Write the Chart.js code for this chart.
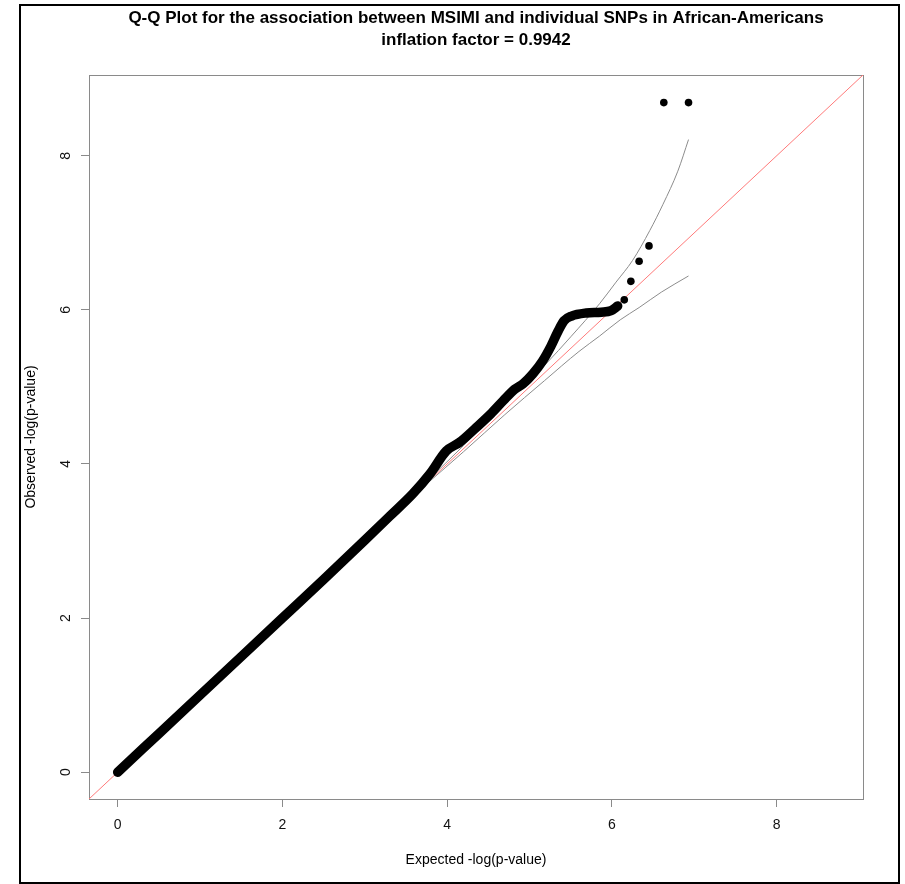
<!DOCTYPE html>
<html>
<head>
<meta charset="utf-8">
<title>Q-Q Plot</title>
<script src="https://cdn.jsdelivr.net/npm/chart.js@4.4.1/dist/chart.umd.min.js"></script>
<style>
  html, body { margin: 0; padding: 0; background: #fff; }
  #wrap { position: relative; width: 905px; height: 884px; }
  #frame {
    position: absolute; left: 19px; top: 4px; width: 881px; height: 880px;
    border: 2px solid #000; box-sizing: border-box; pointer-events: none;
  }
</style>
</head>
<body>
<div id="wrap">
  <canvas id="qqChart" width="905" height="884"></canvas>
  <div id="frame"></div>
</div>
<script>
// axis limits (R style: 0..8.7 plus 4% each side)
const axisMin = -0.348;
const axisMax = 9.048;
const tickValues = [0, 2, 4, 6, 8];

// dense part of the observed curve
const obsExpected = [0, 0.5, 1.0, 1.5, 2.0, 2.5, 3.0, 3.3, 3.58, 3.79, 3.99, 4.15, 4.35, 4.53, 4.68, 4.82, 4.92, 5.04, 5.16, 5.26, 5.34, 5.42, 5.51, 5.69, 5.87, 5.99, 6.07];
const obsObserved = [0, 0.5, 1.0, 1.5, 2.0, 2.5, 3.01, 3.32, 3.61, 3.87, 4.17, 4.28, 4.47, 4.65, 4.82, 4.97, 5.04, 5.17, 5.34, 5.53, 5.71, 5.86, 5.92, 5.96, 5.97, 5.99, 6.05];

// top SNPs drawn as single dots
const tailExpected = [6.15, 6.23, 6.33, 6.45, 6.63, 6.93];
const tailObserved = [6.13, 6.37, 6.63, 6.83, 8.69, 8.69];

// 95% band
const upperExpected = [3.75, 4.2, 4.7, 5.2, 5.5, 5.85, 6.05, 6.25, 6.46, 6.62, 6.8, 6.93];
const upperBound = [3.77, 4.24, 4.78, 5.30, 5.65, 6.08, 6.36, 6.64, 7.03, 7.37, 7.8, 8.21];
const lowerExpected = [3.75, 4.2, 4.7, 5.18, 5.6, 5.85, 6.1, 6.33, 6.6, 6.93];
const lowerBound = [3.74, 4.16, 4.64, 5.08, 5.46, 5.66, 5.87, 6.03, 6.23, 6.44];

function pairs(xs, ys) {
  return xs.map((x, i) => ({ x: x, y: ys[i] }));
}

const boxPlugin = {
  id: 'plotBox',
  beforeDatasetsDraw(chart) {
    const a = chart.chartArea;
    const ctx = chart.ctx;
    ctx.save();
    ctx.strokeStyle = '#8a8a8a';
    ctx.lineWidth = 1;
    ctx.strokeRect(Math.round(a.left) + 0.5, Math.round(a.top) + 0.5,
      Math.round(a.right - a.left), Math.round(a.bottom - a.top));
    ctx.restore();
  }
};

const axisFont = { family: 'Liberation Sans, Arial, sans-serif', size: 14 };

const chart = new Chart(document.getElementById('qqChart').getContext('2d'), {
  type: 'scatter',
  data: {
    datasets: [
      {
        label: 'observed',
        data: pairs(obsExpected, obsObserved),
        showLine: true,
        borderColor: '#000',
        borderWidth: 9.5,
        borderCapStyle: 'round',
        borderJoinStyle: 'round',
        pointRadius: 0,
        cubicInterpolationMode: 'monotone'
      },
      {
        label: 'top',
        data: pairs(tailExpected, tailObserved),
        showLine: false,
        pointRadius: 3.8,
        pointBackgroundColor: '#000',
        pointBorderColor: '#000',
        pointBorderWidth: 0
      },
      {
        label: 'upper',
        data: pairs(upperExpected, upperBound),
        showLine: true,
        borderColor: '#8c8c8c',
        borderWidth: 1,
        pointRadius: 0,
        cubicInterpolationMode: 'monotone'
      },
      {
        label: 'lower',
        data: pairs(lowerExpected, lowerBound),
        showLine: true,
        borderColor: '#8c8c8c',
        borderWidth: 1,
        pointRadius: 0,
        cubicInterpolationMode: 'monotone'
      },
      {
        label: 'y = x',
        data: [{ x: axisMin, y: axisMin }, { x: axisMax, y: axisMax }],
        showLine: true,
        borderColor: '#ff7a7a',
        borderWidth: 1,
        pointRadius: 0
      }
    ]
  },
  options: {
    responsive: false,
    animation: false,
    layout: { padding: { left: 20, right: 42, top: 0, bottom: 0 } },
    plugins: {
      legend: { display: false },
      tooltip: { enabled: false },
      title: {
        display: true,
        fullSize: false,
        text: ['Q-Q Plot for the association between MSIMI and individual SNPs in African-Americans',
               'inflation factor = 0.9942'],
        color: '#000',
        font: { family: 'Liberation Sans, Arial, sans-serif', size: 17, weight: 'bold', lineHeight: 1.3 },
        padding: { top: 7, bottom: 23.8 }
      }
    },
    scales: {
      x: {
        type: 'linear',
        min: axisMin,
        max: axisMax,
        afterBuildTicks: (s) => { s.ticks = tickValues.map(v => ({ value: v })); },
        afterFit: (s) => { s.height = 85; },
        grid: { drawOnChartArea: false, drawTicks: true, tickLength: 8, color: '#8a8a8a' },
        border: { display: true, color: '#8a8a8a' },
        ticks: { color: '#111', font: axisFont, padding: 9.6, maxRotation: 0 },
        title: {
          display: true,
          text: 'Expected -log(p-value)',
          color: '#000',
          font: axisFont,
          padding: { top: 0, bottom: 15.6 }
        }
      },
      y: {
        type: 'linear',
        min: axisMin,
        max: axisMax,
        afterBuildTicks: (s) => { s.ticks = tickValues.map(v => ({ value: v })); },
        afterFit: (s) => { s.width = 69; },
        grid: { drawOnChartArea: false, drawTicks: true, tickLength: 8, color: '#8a8a8a' },
        border: { display: true, color: '#8a8a8a' },
        ticks: { color: '#111', font: axisFont, padding: 11, minRotation: 90, maxRotation: 90, crossAlign: 'center' },
        title: {
          display: true,
          text: 'Observed -log(p-value)',
          color: '#000',
          font: axisFont,
          padding: { top: 2.6, bottom: 0 }
        }
      }
    }
  },
  plugins: [boxPlugin]
});
</script>
</body>
</html>
